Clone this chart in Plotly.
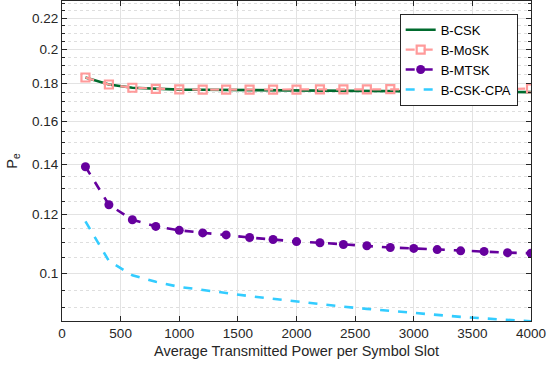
import numpy as np
import plotly.graph_objects as go

# average transmitted power per symbol slot
power = [200, 400, 600, 800, 1000, 1200, 1400, 1600, 1800, 2000,
         2200, 2400, 2600, 2800, 3000, 3200, 3400, 3600, 3800, 4000]

pe_csk = [0.1832, 0.1793, 0.1775, 0.1768, 0.1765, 0.1764, 0.1763, 0.1763, 0.1762, 0.1762,
          0.1761, 0.1760, 0.1759, 0.1758, 0.1757, 0.1756, 0.1755, 0.1754, 0.1752, 0.1751]
pe_mosk = [0.1832, 0.1793, 0.1775, 0.1769, 0.1766, 0.1765, 0.1765, 0.1765, 0.1765, 0.1765,
           0.1766, 0.1766, 0.1766, 0.1767, 0.1766, 0.1766, 0.1767, 0.1766, 0.1767, 0.1772]
pe_mtsk = [0.1391, 0.1237, 0.1181, 0.1157, 0.1143, 0.1134, 0.1127, 0.1118, 0.1111, 0.1104,
           0.1100, 0.1094, 0.1090, 0.1084, 0.1081, 0.1077, 0.1073, 0.1071, 0.1067, 0.1065]
pe_cpa = [0.1175, 0.1040, 0.0995, 0.0975, 0.0960, 0.0952, 0.0942, 0.0933, 0.0925, 0.0917,
          0.0910, 0.0903, 0.0897, 0.0891, 0.0885, 0.0880, 0.0875, 0.0871, 0.0867, 0.0863]

y_ticks = [0.1, 0.12, 0.14, 0.16, 0.18, 0.2, 0.22]
y_ticktext = ['0.1', '0.12', '0.14', '0.16', '0.18', '0.2', '0.22']

AX = '#262626'
FONT = 'Liberation Sans, Arial, sans-serif'

fig = go.Figure()
fig.add_trace(go.Scatter(
    x=power, y=pe_csk, mode='lines', name='B-CSK',
    line=dict(color='#006b2e', width=2.6)))
fig.add_trace(go.Scatter(
    x=power, y=pe_mosk, mode='lines+markers', name='B-MoSK',
    line=dict(color='#ff9a9a', width=2.2, dash='dash'),
    marker=dict(symbol='square-open', size=8, color='#ff9a9a', line=dict(width=2.2))))
fig.add_trace(go.Scatter(
    x=power, y=pe_mtsk, mode='lines+markers', name='B-MTSK',
    line=dict(color='#66009e', width=2.6, dash='dash'),
    marker=dict(symbol='circle', size=9, color='#66009e')))
fig.add_trace(go.Scatter(
    x=power, y=pe_cpa, mode='lines', name='B-CSK-CPA',
    line=dict(color='#33ccff', width=2.6, dash='dash')))

minor_vals = [round(v, 3) for v in np.arange(0.085, 0.2351, 0.005)]

fig.update_layout(
    width=548, height=366,
    paper_bgcolor='white', plot_bgcolor='white',
    font=dict(family=FONT, size=13, color=AX),
    margin=dict(l=62, r=17, t=1, b=45),
    xaxis=dict(
        range=[0, 4000], dtick=500, tick0=0,
        showgrid=True, gridcolor='#e3e3e3', gridwidth=1, zeroline=False,
        ticks='inside', ticklen=5, tickcolor=AX,
        showline=True, linecolor=AX, linewidth=1, mirror='allticks',
        title=dict(text='Average Transmitted Power per Symbol Slot', standoff=5,
                   font=dict(size=14.5, color=AX)),
        tickfont=dict(size=13.5, color=AX)),
    yaxis=dict(
        type='log', range=[np.log10(0.0864), np.log10(0.232)],
        tickmode='array', tickvals=y_ticks, ticktext=y_ticktext,
        showgrid=True, gridcolor='#e3e3e3', gridwidth=1, zeroline=False,
        ticks='inside', ticklen=5, tickcolor=AX,
        showline=True, linecolor=AX, linewidth=1, mirror='allticks',
        minor=dict(tickmode='array', tickvals=minor_vals, ticks='inside', ticklen=3,
                   tickcolor=AX, showgrid=True, gridcolor='#dedede', griddash='dot'),
        title=dict(text='P<sub>e</sub>', standoff=10, font=dict(size=14.5, color=AX)),
        tickfont=dict(size=13.5, color=AX)),
    legend=dict(
        x=0.72, y=0.96, xanchor='left', yanchor='top',
        bgcolor='white', bordercolor=AX, borderwidth=1,
        font=dict(size=13, color='black'), itemwidth=30,
        tracegroupgap=0),
    showlegend=True,
)

# drop the default page margin so the figure sits at the window's corner
fig.write_html('out.html', config={'displayModeBar': False},
               post_script="document.body.style.margin='0';")
